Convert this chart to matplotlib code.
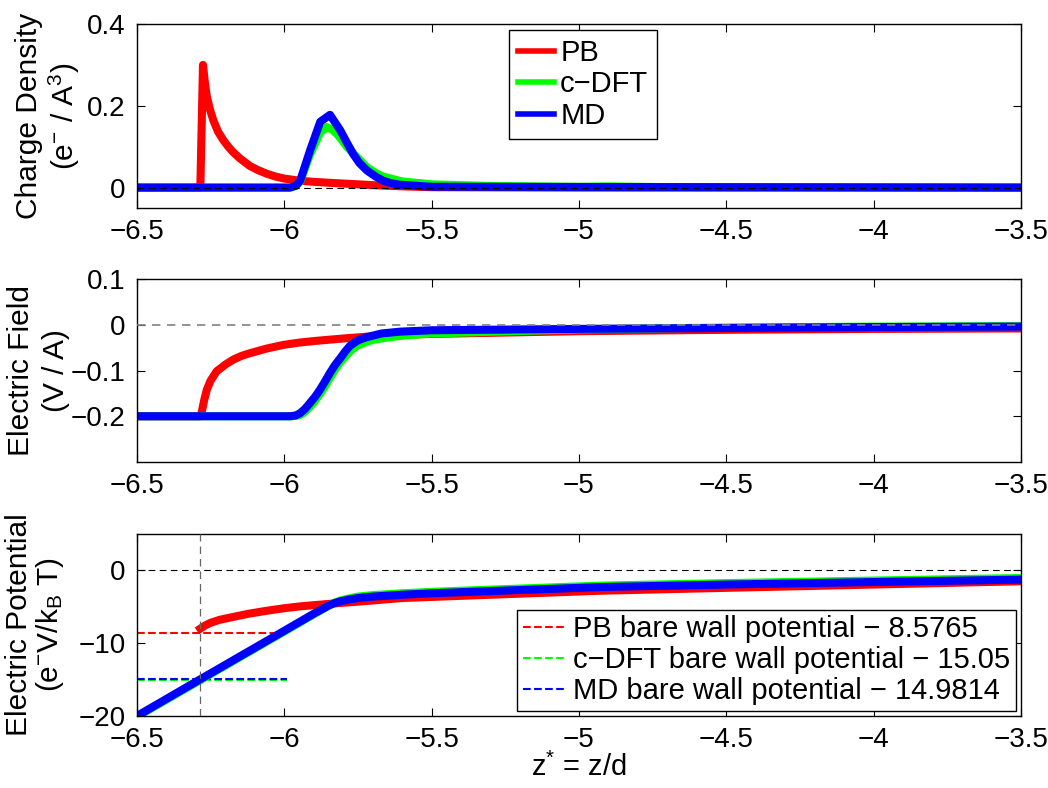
import matplotlib
matplotlib.use('Agg')
import matplotlib.pyplot as plt

plt.rcParams['font.family'] = ['Liberation Sans', 'DejaVu Sans']
plt.rcParams['mathtext.fontset'] = 'custom'
plt.rcParams['mathtext.rm'] = 'Liberation Sans'
plt.rcParams['mathtext.it'] = 'Liberation Sans'
plt.rcParams['mathtext.bf'] = 'Liberation Sans:bold'
plt.rcParams['font.size'] = 21

# charge density profiles
z_rho_pb = [-6.5, -6.285, -6.276, -6.27, -6.263, -6.252, -6.241, -6.225, -6.207, -6.19,
            -6.174, -6.15, -6.117, -6.09, -6.06, -6.03, -6.0, -5.95, -5.9, -5.83,
            -5.75, -5.7, -5.6, -5.5, -5.0, -3.5]
rho_pb = [0, 0, 0.30, 0.26, 0.223, 0.19, 0.165, 0.137, 0.116, 0.10,
          0.087, 0.071, 0.053, 0.043, 0.034, 0.027, 0.022, 0.017, 0.014, 0.011,
          0.008, 0.006, 0.003, 0.001, 0, 0]
z_rho_dft = [-6.5, -5.98, -5.96, -5.946, -5.913, -5.878, -5.856, -5.838, -5.82, -5.8,
             -5.788, -5.75, -5.72, -5.69, -5.665, -5.6, -5.5, -5.3, -5.0, -4.9,
             -4.7, -3.5]
rho_dft = [0, 0, 0.004, 0.015, 0.08, 0.135, 0.148, 0.142, 0.13, 0.112,
           0.10, 0.072, 0.05, 0.036, 0.027, 0.015, 0.008, 0.004, 0.002, 0.003,
           0.001, 0]
z_rho_md = [-6.5, -5.98, -5.96, -5.946, -5.913, -5.878, -5.845, -5.81, -5.79, -5.767,
            -5.745, -5.72, -5.69, -5.665, -5.64, -5.607, -5.5, -3.5]
rho_md = [0, 0, 0.005, 0.017, 0.09, 0.161, 0.178, 0.14, 0.113, 0.083,
          0.06, 0.042, 0.027, 0.017, 0.011, 0.007, 0.002, 0]

# electric field profiles
z_e_pb = [-6.5, -6.285, -6.28, -6.272, -6.263, -6.25, -6.23, -6.2, -6.173, -6.145,
          -6.116, -6.06, -6.003, -5.95, -5.89, -5.8, -5.72, -5.6, -5.5, -5.0,
          -4.5, -4.0, -3.5]
e_pb = [-0.2, -0.2, -0.19, -0.165, -0.142, -0.122, -0.102, -0.087, -0.076, -0.068,
        -0.062, -0.052, -0.044, -0.039, -0.035, -0.03, -0.026, -0.022, -0.02, -0.014,
        -0.011, -0.009, -0.008]
z_e_dft = [-6.5, -5.97, -5.95, -5.935, -5.918, -5.9, -5.883, -5.865, -5.848, -5.83,
           -5.81, -5.79, -5.77, -5.753, -5.72, -5.7, -5.65, -5.6, -5.5, -5.0,
           -4.5, -4.0, -3.5]
e_dft = [-0.2, -0.2, -0.198, -0.193, -0.183, -0.17, -0.155, -0.138, -0.119, -0.1,
         -0.082, -0.067, -0.054, -0.046, -0.037, -0.033, -0.028, -0.024, -0.019, -0.01,
         -0.006, -0.004, -0.003]
z_e_md = [-6.5, -5.98, -5.96, -5.946, -5.93, -5.913, -5.895, -5.879, -5.862, -5.845,
          -5.828, -5.81, -5.793, -5.777, -5.75, -5.72, -5.67, -5.607, -5.5, -5.0,
          -4.5, -4.0, -3.5]
e_md = [-0.2, -0.2, -0.198, -0.193, -0.184, -0.171, -0.157, -0.142, -0.124, -0.105,
        -0.088, -0.073, -0.058, -0.046, -0.034, -0.027, -0.019, -0.015, -0.012, -0.009,
        -0.007, -0.005, -0.004]

# electric potential profiles
z_phi_pb = [-6.285, -6.27, -6.25, -6.22, -6.174, -6.12, -6.06, -6.0, -5.947, -5.89,
            -5.833, -5.75, -5.6, -5.4, -5.2, -4.93, -4.5, -4.0, -3.5]
phi_pb = [-8.0, -7.6, -7.2, -6.8, -6.4, -5.95, -5.55, -5.2, -4.95, -4.75,
          -4.55, -4.3, -3.8, -3.5, -3.2, -2.8, -2.4, -1.95, -1.5]
z_phi_dft = [-6.5, -6.286, -6.0, -5.9, -5.87, -5.85, -5.83, -5.81, -5.78, -5.75,
             -5.7, -5.6, -5.5, -5.336, -4.93, -4.5, -4.0, -3.5]
phi_dft = [-20.1, -15.1, -8.4, -6.05, -5.35, -4.85, -4.45, -4.15, -3.85, -3.6,
           -3.4, -3.15, -2.95, -2.7, -2.1, -1.75, -1.4, -1.05]
z_phi_md = [-6.5, -6.286, -6.0, -5.9, -5.87, -5.85, -5.83, -5.81, -5.78, -5.75,
            -5.7, -5.6, -5.5, -5.336, -4.93, -4.5, -4.0, -3.5]
phi_md = [-20.0, -14.98, -8.3, -5.95, -5.3, -4.85, -4.5, -4.25, -4.0, -3.8,
          -3.6, -3.35, -3.15, -2.9, -2.3, -1.95, -1.6, -1.27]

# bare wall potentials
z_wall = -6.286
wall_span = [-6.5, -5.99]
wall_pb = 8.5765
wall_dft = 15.05
wall_md = 14.9814

red = (1, 0, 0)
green = (0, 1, 0)
blue = (0, 0, 1)
lw = 5.8

fig = plt.figure(figsize=(10.48, 7.88), dpi=100)
ax1 = fig.add_axes([0.1307, 0.736, 0.8435, 0.2335])
ax2 = fig.add_axes([0.1307, 0.4137, 0.8435, 0.2322])
ax3 = fig.add_axes([0.1307, 0.0914, 0.8435, 0.231])

xticks = [-6.5, -6, -5.5, -5, -4.5, -4, -3.5]
xlabels = ['\u22126.5', '\u22126', '\u22125.5', '\u22125', '\u22124.5', '\u22124', '\u22123.5']

for ax in (ax1, ax2, ax3):
    ax.set_xlim(-6.5, -3.5)
    ax.set_xticks(xticks)
    ax.set_xticklabels(xlabels)
    ax.tick_params(direction='in', length=6, width=0.8, top=True, right=True,
                   labelsize=20, pad=8)
    for s in ax.spines.values():
        s.set_linewidth(1.0)

# charge density
ax1.plot(z_rho_pb, rho_pb, color=red, lw=lw, label='PB', solid_joinstyle='round')
ax1.plot(z_rho_dft, rho_dft, color=green, lw=lw, label='c\u2212DFT', solid_joinstyle='round')
ax1.plot(z_rho_md, rho_md, color=blue, lw=lw, label='MD', solid_joinstyle='round')
ax1.axhline(0, color='k', ls='--', lw=0.8, dashes=(6, 4), zorder=5)
ax1.set_ylim(-0.05, 0.4)
ax1.set_yticks([0, 0.2, 0.4])
ax1.set_yticklabels(['0', '0.2', '0.4'])
ax1.set_ylabel('Charge Density\n(e$^{-}$ / A$^{3}$)', fontsize=21.5, linespacing=1.15)
ax1.yaxis.set_label_coords(-0.062, 0.5)
leg1 = ax1.legend(loc='upper left', bbox_to_anchor=(0.421, 0.967), borderaxespad=0,
                  fancybox=False, edgecolor='k', framealpha=1, fontsize=21,
                  handlelength=1.25, handletextpad=0.2, labelspacing=0.12,
                  borderpad=0.3)
leg1.get_frame().set_linewidth(1.0)
for ln in leg1.get_lines():
    ln.set_linewidth(4)

# electric field
ax2.plot(z_e_pb, e_pb, color=red, lw=lw, solid_joinstyle='round')
ax2.plot(z_e_dft, e_dft, color=green, lw=lw, solid_joinstyle='round')
ax2.plot(z_e_md, e_md, color=blue, lw=lw, solid_joinstyle='round')
ax2.axhline(0, color='0.5', ls='--', lw=1.2, dashes=(5, 4), zorder=5)
ax2.set_ylim(-0.3, 0.1)
ax2.set_yticks([-0.2, -0.1, 0, 0.1])
ax2.set_yticklabels(['\u22120.2', '\u22120.1', '0', '0.1'])
ax2.set_ylabel('Electric Field\n(V / A)', fontsize=21.5, linespacing=1.3)
ax2.yaxis.set_label_coords(-0.076, 0.5)

# electric potential
ax3.axvline(z_wall, color='0.4', ls='--', lw=0.9, dashes=(6, 4), zorder=5)
ax3.axhline(0, color='k', ls='--', lw=0.8, dashes=(6, 4), zorder=5)
ax3.plot(wall_span, [-wall_pb] * 2, color=red, ls='--', lw=1.5,
         label='PB bare wall potential \u2212 %.4f' % wall_pb)
ax3.plot(wall_span, [-wall_dft] * 2, color=green, ls='--', lw=1.5,
         label='c\u2212DFT bare wall potential \u2212 %.2f' % wall_dft)
ax3.plot(wall_span, [-wall_md] * 2, color=blue, ls='--', lw=1.5,
         label='MD bare wall potential \u2212 %.4f' % wall_md)
ax3.plot(z_phi_pb, phi_pb, color=red, lw=lw, solid_joinstyle='round')
ax3.plot(z_phi_dft, phi_dft, color=green, lw=lw, solid_joinstyle='round')
ax3.plot(z_phi_md, phi_md, color=blue, lw=lw, solid_joinstyle='round')
ax3.set_ylim(-20, 5)
ax3.set_yticks([-20, -10, 0])
ax3.set_yticklabels(['\u221220', '\u221210', '0'])
ax3.set_ylabel('Electric Potential\n(e$^{-}$V/k$_{B}$ T)', fontsize=21.5, linespacing=1.05)
ax3.yaxis.set_label_coords(-0.08, 0.5)
ax3.set_xlabel('z$^{*}$ = z/d', fontsize=21, labelpad=0)
leg3 = ax3.legend(loc='lower right', bbox_to_anchor=(0.994, 0.027), borderaxespad=0,
                  fancybox=False, edgecolor='k', framealpha=1, fontsize=21,
                  handlelength=1.5, handletextpad=0.2, labelspacing=0.1,
                  borderpad=0.2)
leg3.get_frame().set_linewidth(1.0)

fig.savefig('out.png', dpi=100)
